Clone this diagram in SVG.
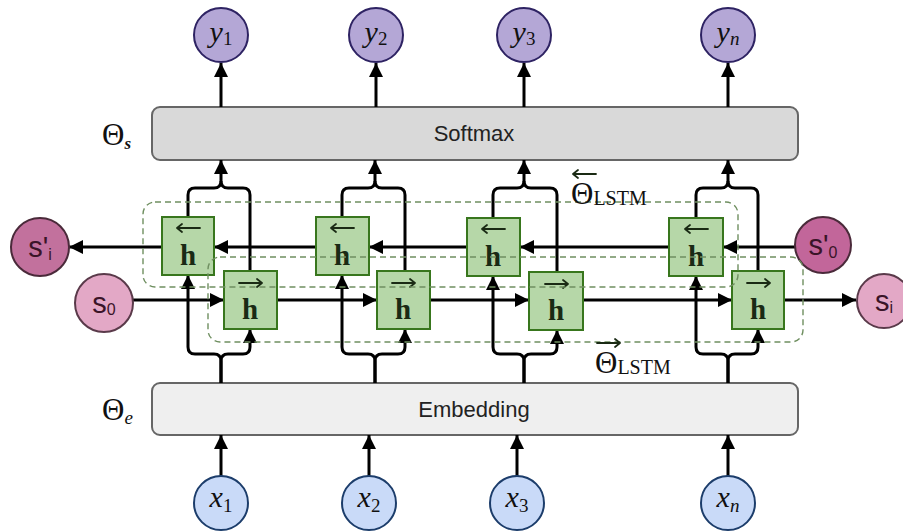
<svg xmlns="http://www.w3.org/2000/svg" width="903" height="531" viewBox="0 0 903 531">
<style>
.bar{stroke:#666;stroke-width:2}
.yc{fill:#b4a7d6;stroke:#2e2363;stroke-width:2}
.xc{fill:#c9daf8;stroke:#1c3d6b;stroke-width:2}
.hb{fill:#b6d7a8;stroke:#38761d;stroke-width:2}
.conn{fill:none;stroke:#000;stroke-width:3}
.acc{fill:none;stroke:#1a2a14;stroke-width:1.8;stroke-linecap:round}
.dash{fill:none;stroke:#6f8f60;stroke-width:1.4;stroke-dasharray:6 4}
.math{font-family:"Liberation Serif","DejaVu Serif",serif;fill:#111}
.sans{font-family:"Liberation Sans",Arial,sans-serif;fill:#222}
.hl{font-family:"Liberation Serif","DejaVu Serif",serif;font-weight:bold;font-size:29px;fill:#1a2a14;text-anchor:middle}
.sl{font-family:"Liberation Sans",Arial,sans-serif;fill:#3a1428;font-size:29px}
</style>
<defs>
<marker id="ah" markerUnits="userSpaceOnUse" markerWidth="14" markerHeight="14" refX="14" refY="7" orient="auto">
<path d="M0,0 L14,7 L0,14 z" fill="#000"/>
</marker>
</defs>

<g id="softmax">
<rect class="bar" x="152" y="107" width="646" height="53" rx="8" fill="#d9d9d9"/>
<text class="sans" x="474" y="141" font-size="22" text-anchor="middle">Softmax</text>
<text class="math" x="102" y="145" font-size="31">Θ<tspan font-style="italic" font-weight="bold" font-size="17" dy="4">s</tspan></text>
</g>
<g id="embedding">
<rect class="bar" x="152" y="383" width="646" height="52" rx="8" fill="#efefef"/>
<text class="sans" x="474" y="417" font-size="22" text-anchor="middle">Embedding</text>
<text class="math" x="102" y="420" font-size="31">Θ<tspan font-style="italic" font-size="19" dy="4">e</tspan></text>
</g>

<g id="connectors">
<path class="conn" d="M221,107 V63" marker-end="url(#ah)"/>
<path class="conn" d="M376,107 V63" marker-end="url(#ah)"/>
<path class="conn" d="M524,107 V63" marker-end="url(#ah)"/>
<path class="conn" d="M728,107 V63" marker-end="url(#ah)"/>
<path class="conn" d="M221,476 V435" marker-end="url(#ah)"/>
<path class="conn" d="M369,476 V435" marker-end="url(#ah)"/>
<path class="conn" d="M517,476 V435" marker-end="url(#ah)"/>
<path class="conn" d="M728,476 V435" marker-end="url(#ah)"/>
<path class="conn" d="M795,247 H723" marker-end="url(#ah)"/>
<path class="conn" d="M669,247 H520" marker-end="url(#ah)"/>
<path class="conn" d="M467,247 H369" marker-end="url(#ah)"/>
<path class="conn" d="M316,247 H214" marker-end="url(#ah)"/>
<path class="conn" d="M162,247 H69" marker-end="url(#ah)"/>
<path class="conn" d="M133,300 H224" marker-end="url(#ah)"/>
<path class="conn" d="M277,300 H377" marker-end="url(#ah)"/>
<path class="conn" d="M430,300 H529" marker-end="url(#ah)"/>
<path class="conn" d="M583,300 H732" marker-end="url(#ah)"/>
<path class="conn" d="M784,300 H856" marker-end="url(#ah)"/>
<path class="conn" d="M221,383 V361 Q221,354 214,354 H195 Q188,354 188,347 V275" marker-end="url(#ah)"/>
<path class="conn" d="M221,383 V361 Q221,354 228,354 H243 Q250,354 250,347 V329" marker-end="url(#ah)"/>
<path class="conn" d="M188,217 V195 Q188,188 195,188 H214 Q221,188 221,181 V160" marker-end="url(#ah)"/>
<path class="conn" d="M250,271 V195 Q250,188 243,188 H228 Q221,188 221,181"/>
<path class="conn" d="M375,383 V361 Q375,354 368,354 H349 Q342,354 342,347 V275" marker-end="url(#ah)"/>
<path class="conn" d="M375,383 V361 Q375,354 382,354 H398 Q405,354 405,347 V329" marker-end="url(#ah)"/>
<path class="conn" d="M342,217 V195 Q342,188 349,188 H368 Q375,188 375,181 V160" marker-end="url(#ah)"/>
<path class="conn" d="M405,271 V195 Q405,188 398,188 H382 Q375,188 375,181"/>
<path class="conn" d="M524,383 V361 Q524,354 517,354 H500 Q493,354 493,347 V276" marker-end="url(#ah)"/>
<path class="conn" d="M524,383 V361 Q524,354 531,354 H550 Q557,354 557,347 V330" marker-end="url(#ah)"/>
<path class="conn" d="M493,218 V195 Q493,188 500,188 H517 Q524,188 524,181 V160" marker-end="url(#ah)"/>
<path class="conn" d="M557,272 V195 Q557,188 550,188 H531 Q524,188 524,181"/>
<path class="conn" d="M728,383 V361 Q728,354 721,354 H703 Q696,354 696,347 V276" marker-end="url(#ah)"/>
<path class="conn" d="M728,383 V361 Q728,354 735,354 H751 Q758,354 758,347 V329" marker-end="url(#ah)"/>
<path class="conn" d="M696,218 V195 Q696,188 703,188 H721 Q728,188 728,181 V160" marker-end="url(#ah)"/>
<path class="conn" d="M758,271 V195 Q758,188 751,188 H735 Q728,188 728,181"/>
</g>

<g id="y1"><circle class="yc" cx="221" cy="35" r="27"/><text class="math" x="221" y="42" font-size="30" text-anchor="middle"><tspan font-style="italic">y</tspan><tspan font-size="19" dy="3">1</tspan></text></g>
<g id="y2"><circle class="yc" cx="376" cy="35" r="27"/><text class="math" x="376" y="42" font-size="30" text-anchor="middle"><tspan font-style="italic">y</tspan><tspan font-size="19" dy="3">2</tspan></text></g>
<g id="y3"><circle class="yc" cx="524" cy="35" r="27"/><text class="math" x="524" y="42" font-size="30" text-anchor="middle"><tspan font-style="italic">y</tspan><tspan font-size="19" dy="3">3</tspan></text></g>
<g id="yn"><circle class="yc" cx="728" cy="35" r="27"/><text class="math" x="728" y="42" font-size="30" text-anchor="middle"><tspan font-style="italic">y</tspan><tspan font-style="italic" font-size="19" dy="3">n</tspan></text></g>

<g id="x1"><circle class="xc" cx="221" cy="503" r="27"/><text class="math" x="221" y="507" font-size="30" text-anchor="middle"><tspan font-style="italic">x</tspan><tspan font-size="19" dy="5">1</tspan></text></g>
<g id="x2"><circle class="xc" cx="369" cy="503" r="27"/><text class="math" x="369" y="507" font-size="30" text-anchor="middle"><tspan font-style="italic">x</tspan><tspan font-size="19" dy="5">2</tspan></text></g>
<g id="x3"><circle class="xc" cx="517" cy="503" r="27"/><text class="math" x="517" y="507" font-size="30" text-anchor="middle"><tspan font-style="italic">x</tspan><tspan font-size="19" dy="5">3</tspan></text></g>
<g id="xn"><circle class="xc" cx="728" cy="503" r="27"/><text class="math" x="728" y="507" font-size="30" text-anchor="middle"><tspan font-style="italic">x</tspan><tspan font-style="italic" font-size="19" dy="5">n</tspan></text></g>

<g id="s_prime_i"><circle cx="40" cy="247" r="29" fill="#c2719d" stroke="#4a2a3a" stroke-width="2"/><text class="sl" x="40" y="257" text-anchor="middle">s'<tspan font-size="16" dy="3">i</tspan></text></g>
<g id="s_0"><circle cx="104" cy="303" r="29" fill="#e3a8c6" stroke="#5a3a4a" stroke-width="2"/><text class="sl" x="104" y="313" text-anchor="middle">s<tspan font-size="16" dy="2">0</tspan></text></g>
<g id="s_prime_0"><circle cx="823" cy="245" r="28" fill="#c2669a" stroke="#4a2a3a" stroke-width="2"/><text class="sl" x="823" y="255" text-anchor="middle">s'<tspan font-size="16" dy="3">0</tspan></text></g>
<g id="s_i"><circle cx="884" cy="301" r="27" fill="#e3a8c6" stroke="#5a3a4a" stroke-width="2"/><text class="sl" x="884" y="311" text-anchor="middle">s<tspan font-size="16" dy="2">i</tspan></text></g>

<g id="hb1"><rect class="hb" x="162" y="217" width="52" height="58"/><path class="acc" d="M177,228 H200 M177,228 l5,-4 M177,228 l5,4"/><text class="hl" x="188" y="265">h</text></g>
<g id="hb2"><rect class="hb" x="316" y="217" width="53" height="58"/><path class="acc" d="M331,228 H354 M331,228 l5,-4 M331,228 l5,4"/><text class="hl" x="342" y="265">h</text></g>
<g id="hb3"><rect class="hb" x="467" y="218" width="53" height="58"/><path class="acc" d="M482,229 H505 M482,229 l5,-4 M482,229 l5,4"/><text class="hl" x="493" y="266">h</text></g>
<g id="hb4"><rect class="hb" x="669" y="218" width="54" height="58"/><path class="acc" d="M685,229 H708 M685,229 l5,-4 M685,229 l5,4"/><text class="hl" x="696" y="266">h</text></g>

<g id="hf1"><rect class="hb" x="224" y="271" width="53" height="58"/><path class="acc" d="M239,283 H262 M262,283 l-5,-4 M262,283 l-5,4"/><text class="hl" x="250" y="319">h</text></g>
<g id="hf2"><rect class="hb" x="377" y="271" width="53" height="58"/><path class="acc" d="M392,283 H415 M415,283 l-5,-4 M415,283 l-5,4"/><text class="hl" x="403" y="319">h</text></g>
<g id="hf3"><rect class="hb" x="529" y="272" width="54" height="58"/><path class="acc" d="M545,284 H568 M568,284 l-5,-4 M568,284 l-5,4"/><text class="hl" x="556" y="320">h</text></g>
<g id="hf4"><rect class="hb" x="732" y="271" width="52" height="58"/><path class="acc" d="M747,283 H770 M770,283 l-5,-4 M770,283 l-5,4"/><text class="hl" x="758" y="319">h</text></g>

<g id="bwd_group"><rect class="dash" x="143" y="202" width="595" height="85" rx="12"/></g>
<g id="fwd_group"><rect class="dash" x="208" y="257" width="595" height="85" rx="12"/></g>

<g id="label_bwd">
<path class="acc" d="M573,174 H596 M573,174 l5,-4 M573,174 l5,4" stroke="#222"/>
<text class="math" x="571" y="204" font-size="31">Θ<tspan font-size="20" dy="1">LSTM</tspan></text>
</g>
<g id="label_fwd">
<path class="acc" d="M597,343 H620 M620,343 l-5,-4 M620,343 l-5,4" stroke="#222"/>
<text class="math" x="595" y="373" font-size="31">Θ<tspan font-size="20" dy="1">LSTM</tspan></text>
</g>
</svg>
